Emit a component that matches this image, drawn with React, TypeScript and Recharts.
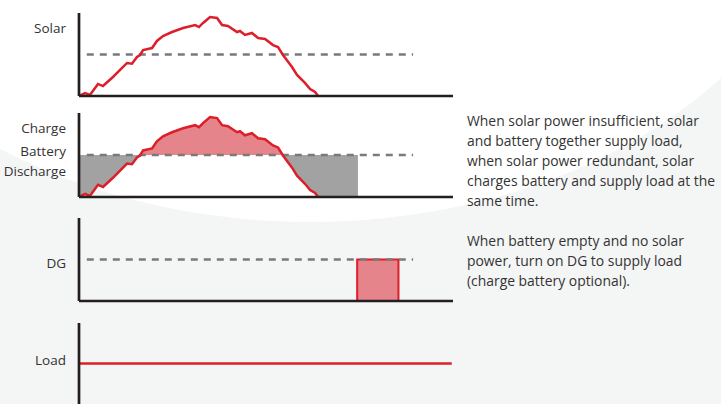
import {
  ComposedChart,
  Line,
  Area,
  XAxis,
  YAxis,
  ReferenceLine,
  ReferenceArea,
} from 'recharts';

// hours of the day on every panel
const hourDomain = [0, 24];
const levelDomain = [0, 10];

// solar output through the day (same curve in the first two panels)
const solarHours = [0, 0.39, 0.7, 1.22, 1.54, 2.18, 3.08, 3.4, 3.72, 3.92, 4.11, 4.69, 5.0, 5.39, 5.97, 6.68, 7.45, 7.7, 7.96, 8.41, 8.86, 9.18, 9.56, 10.14, 10.33, 10.65, 11.1, 11.49, 11.94, 12.45, 12.77, 13.09, 13.67, 13.99, 14.5, 14.83, 15.15, 15.34];
const solarPower = [0, 0.36, 0.12, 1.45, 1.2, 2.29, 3.98, 3.9, 4.7, 4.94, 5.54, 5.78, 6.63, 7.23, 7.71, 8.19, 8.55, 8.31, 8.8, 9.52, 9.4, 8.55, 8.43, 7.71, 7.83, 7.35, 7.59, 6.99, 6.87, 6.14, 5.9, 4.94, 3.49, 2.53, 1.57, 0.84, 0.48, 0];

const loadLevel = 5;
const dashedStart = 0.5;
const dashedEnd = 21.44;
const dischargeEnd = 17.9;
const dgStart = 17.85;
const dgEnd = 20.5;
const loadEnd = 23.92;

const solarTicks = [8.2];
const solarTickLabels = ['Solar'];
const batteryTicks = [8.2, 5.4, 3.1];
const batteryTickLabels = ['Charge', 'Battery', 'Discharge'];
const dgTicks = [4.6];
const dgTickLabels = ['DG'];
const loadTicks = [5.35];
const loadTickLabels = ['Load'];

const firstNote = [
  'When solar power insufficient, solar',
  'and battery together supply load,',
  'when solar power redundant, solar',
  'charges battery and supply load at the',
  'same time.',
];
const secondNote = [
  'When battery empty and no solar',
  'power, turn on DG to supply load',
  '(charge battery optional).',
];

const RED = '#dc1f2a';
const RED_FILL = '#e5848a';
const GRAY_FILL = '#a2a2a2';
const DASH = '#7a7a7a';
const AXIS = '#231f20';
const FONT = "'Open Sans', 'Noto Sans', sans-serif";

const solarRows = solarHours.map((t, i) => ({ t, solar: solarPower[i], battery: solarPower[i] }));
const batteryRows = [...solarRows, { t: dischargeEnd, battery: 0 }];
const loadRows = [
  { t: 0, load: loadLevel },
  { t: loadEnd, load: loadLevel },
];

const peak = Math.max(...solarPower);
const splitOffset = (peak - loadLevel) / peak;

function labelAxis(ticks: number[], labels: string[]) {
  return (
    <YAxis
      type="number"
      domain={levelDomain}
      ticks={ticks}
      interval={0}
      tickFormatter={(v: number) => labels[ticks.indexOf(v)] ?? ''}
      width={79}
      tickSize={0}
      tickMargin={13}
      tick={{ fill: '#333', fontSize: 13.5, fontFamily: FONT }}
      axisLine={{ stroke: AXIS, strokeWidth: 2.7 }}
      tickLine={false}
      allowDataOverflow
    />
  );
}

function timeAxis(hide = false) {
  return (
    <XAxis
      type="number"
      dataKey="t"
      domain={hourDomain}
      height={4}
      tick={false}
      tickLine={false}
      hide={hide}
      axisLine={{ stroke: AXIS, strokeWidth: 2.7 }}
      allowDataOverflow
    />
  );
}

const dashedSegment = (
  <ReferenceLine
    segment={[
      { x: dashedStart, y: loadLevel },
      { x: dashedEnd, y: loadLevel },
    ]}
    stroke={DASH}
    strokeWidth={2.6}
    strokeDasharray="7 6"
  />
);

export default function App() {
  const panel = (top: number): React.CSSProperties => ({ position: 'absolute', left: 0, top });

  return (
    <div
      style={{
        position: 'absolute',
        left: 0,
        top: 0,
        width: 721,
        height: 404,
        overflow: 'hidden',
        background: '#f4f5f5',
        fontFamily: FONT,
      }}
    >
      <div
        style={{
          position: 'absolute',
          left: -210,
          top: -522,
          width: 1040,
          height: 744,
          borderRadius: '50%',
          background: '#ffffff',
        }}
      />

      <div style={panel(0)}>
        <ComposedChart width={460} height={100} data={solarRows} margin={{ top: 13, right: 7, bottom: 0, left: 0 }}>
          {timeAxis()}
          {labelAxis(solarTicks, solarTickLabels)}
          {dashedSegment}
          <Line type="linear" dataKey="solar" stroke={RED} strokeWidth={2.5} dot={false} isAnimationActive={false} />
        </ComposedChart>
      </div>

      <div style={panel(100)}>
        <ComposedChart width={460} height={101} data={batteryRows} margin={{ top: 13, right: 7, bottom: 0, left: 0 }}>
          <defs>
            <linearGradient id="chargeSplit" x1="0" y1="0" x2="0" y2="1">
              <stop offset={splitOffset} stopColor={RED_FILL} />
              <stop offset={splitOffset} stopColor={GRAY_FILL} />
            </linearGradient>
          </defs>
          {timeAxis()}
          {labelAxis(batteryTicks, batteryTickLabels)}
          <Area
            type="linear"
            dataKey="battery"
            baseValue={loadLevel}
            fill="url(#chargeSplit)"
            fillOpacity={1}
            stroke="none"
            isAnimationActive={false}
          />
          {dashedSegment}
          <Line type="linear" dataKey="solar" stroke={RED} strokeWidth={2.5} dot={false} isAnimationActive={false} />
        </ComposedChart>
      </div>

      <div style={panel(205)}>
        <ComposedChart width={460} height={100} data={loadRows} margin={{ top: 13, right: 7, bottom: 0, left: 0 }}>
          {timeAxis()}
          {labelAxis(dgTicks, dgTickLabels)}
          <ReferenceArea
            x1={dgStart}
            x2={dgEnd}
            y1={0}
            y2={loadLevel}
            fill={RED_FILL}
            fillOpacity={1}
            stroke={RED}
            strokeWidth={2}
          />
          {dashedSegment}
        </ComposedChart>
      </div>

      <div style={panel(310)}>
        <ComposedChart width={460} height={94} data={loadRows} margin={{ top: 13, right: 7, bottom: 0, left: 0 }}>
          {timeAxis(true)}
          {labelAxis(loadTicks, loadTickLabels)}
          <Line type="linear" dataKey="load" stroke={RED} strokeWidth={2.7} dot={false} isAnimationActive={false} />
        </ComposedChart>
      </div>

      <div
        style={{
          position: 'absolute',
          left: 467,
          top: 111,
          fontSize: 13.9,
          lineHeight: '20px',
          color: '#333',
          whiteSpace: 'nowrap',
        }}
      >
        {firstNote.map((line) => (
          <div key={line}>{line}</div>
        ))}
        <div style={{ height: 20 }} />
        {secondNote.map((line) => (
          <div key={line}>{line}</div>
        ))}
      </div>
    </div>
  );
}
